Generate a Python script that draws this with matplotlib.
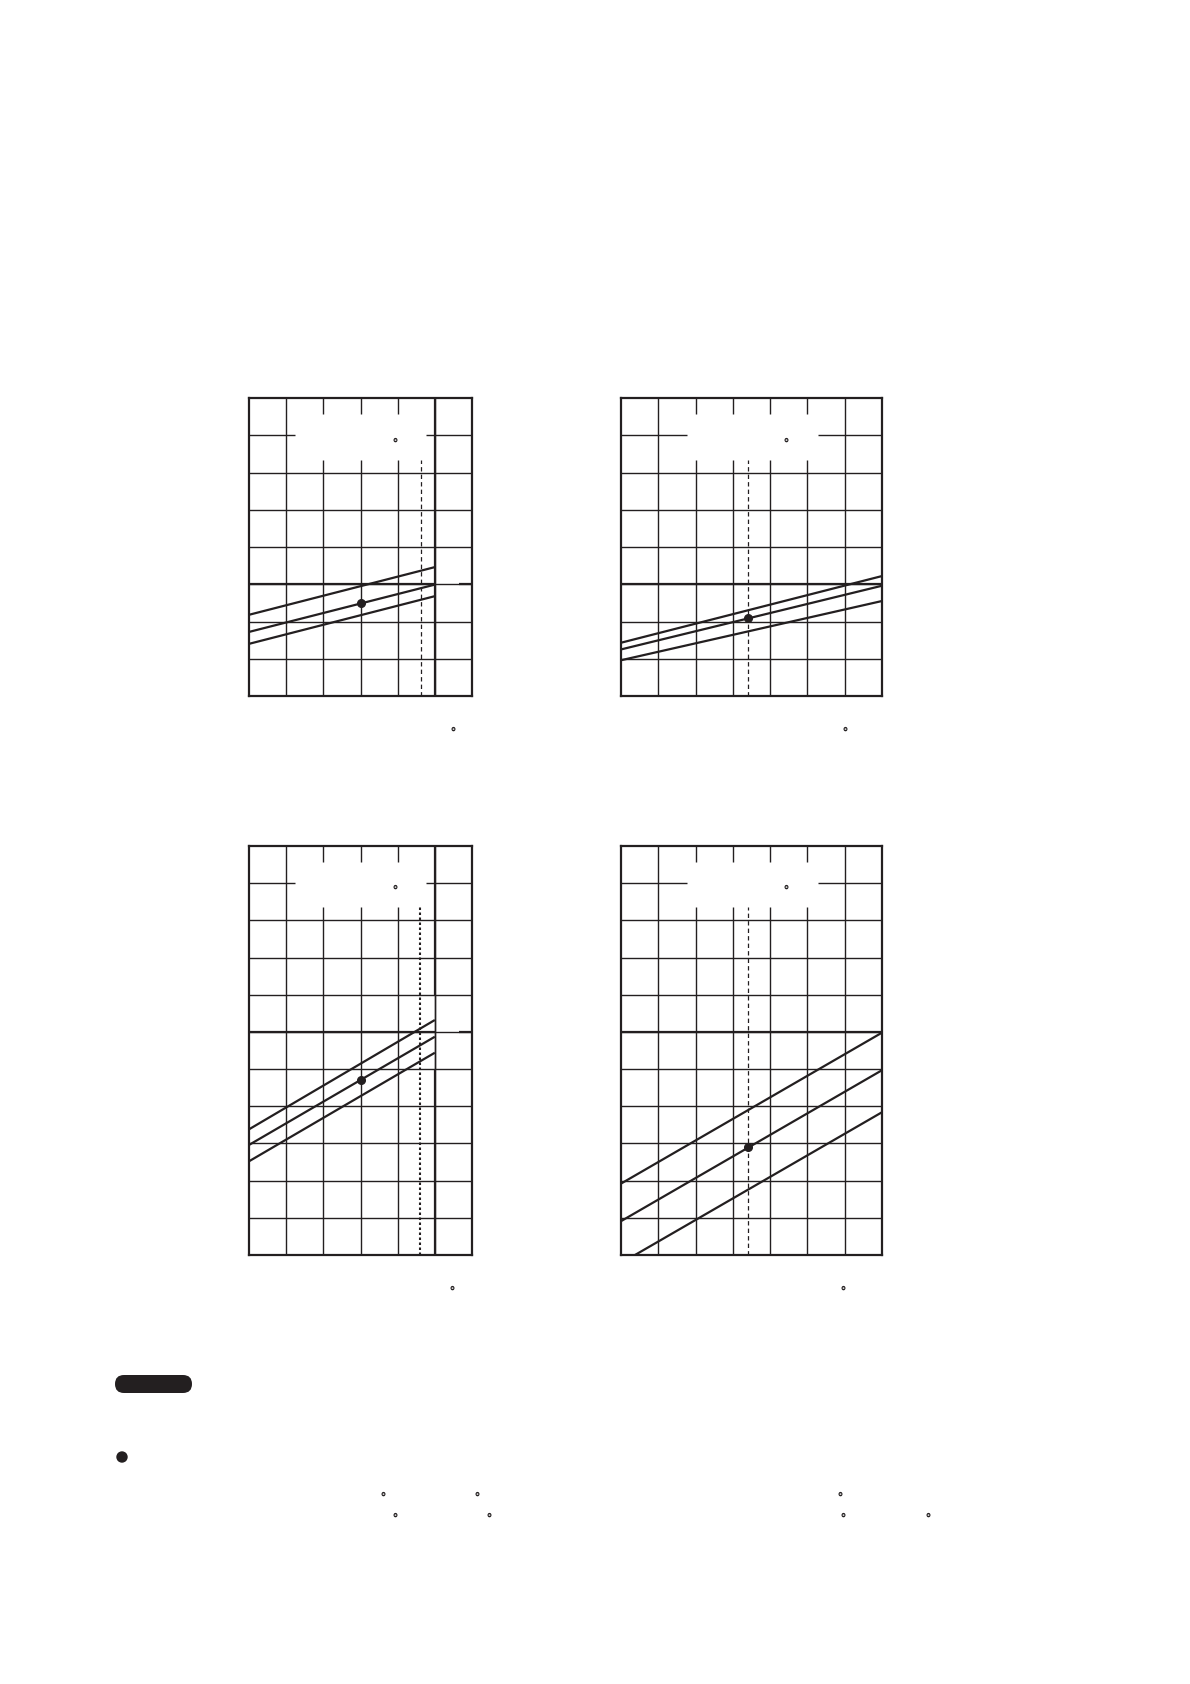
import matplotlib
matplotlib.use("Agg")
import matplotlib.pyplot as plt
from matplotlib.patches import FancyBboxPatch, Circle

plt.rcParams['font.family'] = ['Noto Sans CJK JP', 'DejaVu Sans']
INK = '#231f20'

W, H = 1190, 1684

# ---------------- data ----------------
# Panel 1 (top-left): 6 x 8 grid, lines end at x = 5
p1_x = [0, 5]
p1_upper = [2.18, 3.46]
p1_middle = [1.72, 2.99]
p1_lower = [1.40, 2.68]
p1_dot = (3.0, 2.49)
p1_dash_x = 4.62

# Panel 2 (top-right): 7 x 8 grid
p2_x = [0, 7]
p2_upper = [1.43, 3.22]
p2_middle = [1.25, 2.96]
p2_lower = [0.96, 2.55]
p2_dot = (3.41, 2.09)
p2_dash_x = 3.41

# Panel 3 (bottom-left): 6 x 11 grid, lines end at x = 5
p3_x = [0, 5]
p3_upper = [3.38, 6.32]
p3_middle = [2.96, 5.87]
p3_lower = [2.52, 5.44]
p3_dot = (3.0, 4.70)
p3_dash_x = 4.61

# Panel 4 (bottom-right): 7 x 11 grid
p4_x = [0, 7]
p4_upper = [1.92, 5.98]
p4_middle = [0.91, 4.97]
p4_lower_x = [0.375, 7]
p4_lower = [0.0, 3.84]
p4_dot = (3.40, 2.90)
p4_dash_x = 3.40

DEG = '\u00b0'

# bottom page marks (pixel positions of degree signs in the note text)
note_deg_x = [383, 477, 395, 489, 840, 843, 928]
note_deg_y = [1494, 1494, 1515, 1515, 1494, 1515, 1515]

fig = plt.figure(figsize=(W / 100, H / 100), dpi=100)

GRID_LW = 1.0
THICK_LW = 1.6
DATA_LW = 1.6
DEG_FS = 9


def deg_text(ax, x, y, **kw):
    ax.annotate(DEG, (x, y), xytext=(0, -0.32 * DEG_FS), textcoords='offset points',
                ha='center', va='center', fontsize=DEG_FS, color=INK,
                fontweight='bold', annotation_clip=False, **kw)


def add_panel(left, top, right, bottom):
    return fig.add_axes([left / W, 1 - bottom / H, (right - left) / W, (bottom - top) / H])


def draw_grid(ax, ncols, nrows, box):
    bx0, bx1, by0, by1 = box
    for i in range(1, ncols):
        if bx0 < i < bx1:
            ax.vlines(i, 0, by0, color=INK, lw=GRID_LW)
            ax.vlines(i, by1, nrows, color=INK, lw=GRID_LW)
        else:
            ax.vlines(i, 0, nrows, color=INK, lw=GRID_LW)
    for j in range(1, nrows):
        if by0 < j < by1:
            ax.hlines(j, 0, bx0, color=INK, lw=GRID_LW)
            ax.hlines(j, bx1, ncols, color=INK, lw=GRID_LW)
        else:
            ax.hlines(j, 0, ncols, color=INK, lw=GRID_LW)


def setup(ax, ncols, nrows):
    ax.set_xlim(0, ncols)
    ax.set_ylim(0, nrows)
    ax.set_xticks([])
    ax.set_yticks([])
    for s in ax.spines.values():
        s.set_linewidth(THICK_LW)
        s.set_color(INK)


panels = [
    dict(rect=(249, 398, 472, 696), ncols=6, nrows=8, box=(1.24, 4.77, 6.33, 7.58),
         thick_x=5, thick_y=3, notch=True, xs=[p1_x, p1_x, p1_x],
         ys=[p1_upper, p1_middle, p1_lower], dot=p1_dot, dash_x=p1_dash_x,
         dash=(0, (3.5, 2.5)), dash_lw=0.9, deg_box=(3.92, 6.87), deg_below=5.5,
         thin_x_range=None),
    dict(rect=(621, 398, 882, 696), ncols=7, nrows=8, box=(1.76, 5.28, 6.33, 7.58),
         thick_x=None, thick_y=3, notch=False, xs=[p2_x, p2_x, p2_x],
         ys=[p2_upper, p2_middle, p2_lower], dot=p2_dot, dash_x=p2_dash_x,
         dash=(0, (3.5, 2.5)), dash_lw=0.9, deg_box=(4.42, 6.87), deg_below=6.0,
         thin_x_range=None),
    dict(rect=(249, 846, 472, 1255), ncols=6, nrows=11, box=(1.24, 4.77, 9.37, 10.58),
         thick_x=5, thick_y=6, notch=True, xs=[p3_x, p3_x, p3_x],
         ys=[p3_upper, p3_middle, p3_lower], dot=p3_dot, dash_x=p3_dash_x,
         dash=(0, (1.2, 1.2)), dash_lw=1.5, deg_box=(3.92, 9.89), deg_below=5.46,
         thin_x_range=(5, 7)),
    dict(rect=(621, 846, 882, 1255), ncols=7, nrows=11, box=(1.76, 5.28, 9.37, 10.58),
         thick_x=None, thick_y=6, notch=False, xs=[p4_x, p4_x, p4_lower_x],
         ys=[p4_upper, p4_middle, p4_lower], dot=p4_dot, dash_x=p4_dash_x,
         dash=(0, (3.5, 2.5)), dash_lw=0.9, deg_box=(4.42, 9.89), deg_below=5.95,
         thin_x_range=None),
]

for p in panels:
    ax = add_panel(*p['rect'])
    nc, nr = p['ncols'], p['nrows']
    setup(ax, nc, nr)
    draw_grid(ax, nc, nr, p['box'])
    # thick horizontal reference line
    if p['notch']:
        ax.hlines(p['thick_y'], 0, p['thick_x'], color=INK, lw=THICK_LW)
        ax.hlines(p['thick_y'], p['thick_x'] + 0.64, nc, color=INK, lw=THICK_LW)
    else:
        ax.hlines(p['thick_y'], 0, nc, color=INK, lw=THICK_LW)
    # thick vertical limit line
    if p['thick_x'] is not None:
        if p['thin_x_range'] is None:
            ax.vlines(p['thick_x'], 0, nr, color=INK, lw=THICK_LW)
        else:
            a, b = p['thin_x_range']
            ax.vlines(p['thick_x'], 0, a, color=INK, lw=THICK_LW)
            ax.vlines(p['thick_x'], b, nr, color=INK, lw=THICK_LW)
            ax.vlines(p['thick_x'], a, b, color=INK, lw=GRID_LW)
    # dashed marker line
    ax.plot([p['dash_x'], p['dash_x']], [0, p['box'][2]], color=INK,
            lw=p['dash_lw'], linestyle=p['dash'])
    # three characteristic lines
    for xs, ys in zip(p['xs'], p['ys']):
        ax.plot(xs, ys, color=INK, lw=DATA_LW, solid_capstyle='butt')
    ax.plot([p['dot'][0]], [p['dot'][1]], 'o', color=INK, ms=5.5, zorder=6)
    # degree signs (remaining glyphs of labels)
    deg_text(ax, p['deg_box'][0], p['deg_box'][1])
    deg_text(ax, p['deg_below'], -0.89)

# page overlay for note section
ov = fig.add_axes([0, 0, 1, 1], zorder=-1)
ov.set_xlim(0, W)
ov.set_ylim(H, 0)
ov.axis('off')
ov.add_patch(FancyBboxPatch((115, 1375), 77, 18,
                            boxstyle='round,pad=0,rounding_size=9',
                            fc=INK, ec='none'))
ov.add_patch(Circle((122, 1457), 5.7, fc=INK, ec='none'))
for x, y in zip(note_deg_x, note_deg_y):
    deg_text(ov, x, y)

fig.savefig('out.png', dpi=100, facecolor='white')
